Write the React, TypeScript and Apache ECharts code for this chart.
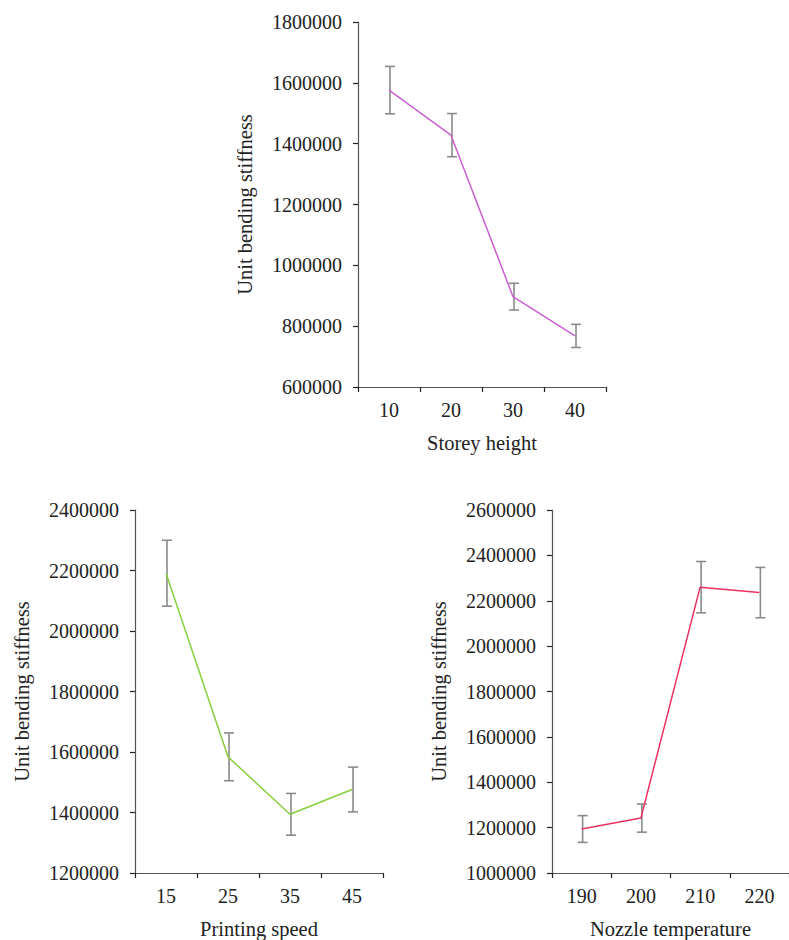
import React, { useEffect, useRef } from "react";
import * as echarts from "echarts";

const storeyCats = ["10", "20", "30", "40"];
const storeyMean = [1576000, 1428000, 897000, 768000];
const storeyErr = [78000, 71000, 44000, 38000];

const speedCats = ["15", "25", "35", "45"];
const speedMean = [2191000, 1584000, 1394000, 1476000];
const speedErr = [109000, 79000, 69000, 74000];

const tempCats = ["190", "200", "210", "220"];
const tempMean = [1194000, 1242000, 2260000, 2236000];
const tempErr = [59000, 62000, 113000, 111000];

const FONT = "Liberation Serif";

function errData(mean: number[], err: number[]) {
  return mean.map((m, i) => [i, m - err[i], m + err[i]]);
}

function errorSeries(idx: number, mean: number[], err: number[]) {
  return {
    type: "custom",
    xAxisIndex: idx,
    yAxisIndex: idx,
    data: errData(mean, err),
    z: 3,
    renderItem: (params: any, api: any) => {
      const x = api.value(0);
      const lo = api.coord([x, api.value(1)]);
      const hi = api.coord([x, api.value(2)]);
      const cx = lo[0] + 1;
      const w = 5;
      const st = { stroke: "#8a8a8a", lineWidth: 1.6 };
      return {
        type: "group",
        children: [
          { type: "line", shape: { x1: cx, y1: lo[1], x2: cx, y2: hi[1] }, style: st },
          { type: "line", shape: { x1: cx - w, y1: lo[1], x2: cx + w, y2: lo[1] }, style: st },
          { type: "line", shape: { x1: cx - w, y1: hi[1], x2: cx + w, y2: hi[1] }, style: st },
        ],
      };
    },
  };
}

export default function App() {
  const ref = useRef<HTMLDivElement>(null);
  useEffect(() => {
    if (!ref.current) return;
    const chart = echarts.init(ref.current, null, { renderer: "svg" });
    const grids = [
      { left: 358, top: 22, width: 248, height: 365 },
      { left: 135, top: 510, width: 248, height: 363 },
      { left: 552, top: 510, width: 247, height: 363 },
    ];
    const cats = [storeyCats, speedCats, tempCats];
    const names = ["Storey height", "Printing speed", "Nozzle temperature"];
    const yr = [
      [600000, 1800000],
      [1200000, 2400000],
      [1000000, 2600000],
    ];
    const axisLine = { show: true, lineStyle: { color: "#555", width: 1.2 } };
    const axisTick = { show: true, length: 5, lineStyle: { color: "#222", width: 1.2 } };
    const option: any = {
      animation: false,
      backgroundColor: "#fff",
      grid: grids.map((g) => ({ ...g, containLabel: false })),
      xAxis: cats.map((c, i) => ({
        type: "category",
        gridIndex: i,
        data: c,
        boundaryGap: true,
        axisLine,
        axisTick: { ...axisTick, alignWithLabel: false },
        axisLabel: { color: "#222", fontFamily: FONT, fontSize: 20, margin: 13 },
        name: names[i],
        nameLocation: "middle",
        nameGap: 45,
        nameTextStyle: { color: "#222", fontFamily: FONT, fontSize: 20.5 },
        splitLine: { show: false },
      })),
      yAxis: yr.map((r, i) => ({
        type: "value",
        gridIndex: i,
        min: r[0],
        max: r[1],
        interval: 200000,
        axisLine,
        axisTick,
        axisLabel: {
          color: "#222",
          fontFamily: FONT,
          fontSize: 20,
          margin: 16,
          formatter: (v: number) => String(v),
        },
        name: "Unit bending stiffness",
        nameLocation: "middle",
        nameGap: 103,
        nameTextStyle: { color: "#222", fontFamily: FONT, fontSize: 20.5 },
        splitLine: { show: false },
      })),
      series: [
        {
          type: "line",
          xAxisIndex: 0,
          yAxisIndex: 0,
          data: storeyMean,
          symbol: "none",
          lineStyle: { color: "#c95fd0", width: 1.5 },
          z: 4,
        },
        errorSeries(0, storeyMean, storeyErr),
        {
          type: "line",
          xAxisIndex: 1,
          yAxisIndex: 1,
          data: speedMean,
          symbol: "none",
          lineStyle: { color: "#86cf3c", width: 1.5 },
          z: 4,
        },
        errorSeries(1, speedMean, speedErr),
        {
          type: "line",
          xAxisIndex: 2,
          yAxisIndex: 2,
          data: tempMean,
          symbol: "none",
          lineStyle: { color: "#ee3060", width: 1.5 },
          z: 4,
        },
        errorSeries(2, tempMean, tempErr),
      ],
    };
    chart.setOption(option);
    return () => chart.dispose();
  }, []);
  return (
    <div
      ref={ref}
      style={{ position: "fixed", left: 0, top: 0, width: 789, height: 940, background: "#fff" }}
    />
  );
}
